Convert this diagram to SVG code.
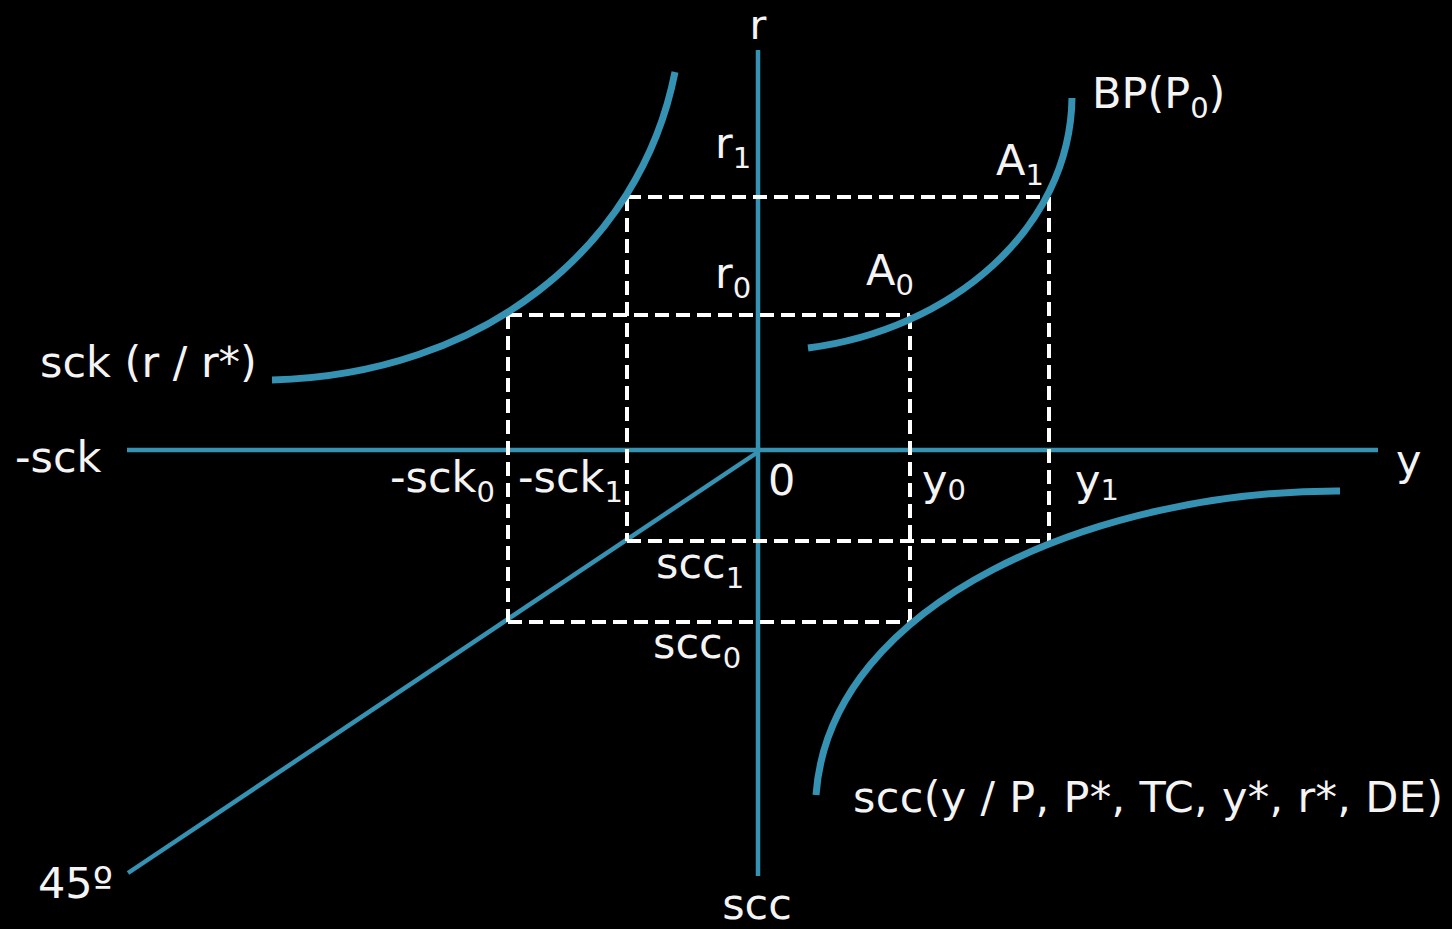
<svg xmlns="http://www.w3.org/2000/svg" width="1452" height="929" viewBox="0 0 1452 929">
<style>
.ax{stroke:#3592b2;stroke-width:4.5;fill:none}
.cv{stroke:#3592b2;stroke-width:7;fill:none;stroke-linecap:butt}
.ds{stroke:#ffffff;stroke-width:4;fill:none;stroke-dasharray:14 7}
text{font-family:"DejaVu Sans","Liberation Sans",sans-serif;fill:#f4f4f4;font-size:43px}
.sb{font-size:29px}
</style>
<rect width="1452" height="929" fill="#000"/>
<g id="connectors">
<line class="ax" x1="758" y1="50" x2="758" y2="876"/>
<line class="ax" x1="127" y1="450" x2="1378" y2="450"/>
<line class="ax" x1="758" y1="452" x2="128" y2="873"/>
<path class="ds" d="M627,197 H1049 M627,197 V541 M1049,197 V541 M627,541 H1049"/>
<path class="ds" d="M508,315 H910 M508,315 V622 M910,315 V622 M508,622 H910"/>
</g>
<g id="sck-curve"><path class="cv" d="M675,72 C640,250 480,375 272,380"/></g>
<g id="bp-curve"><path class="cv" d="M1072,98 C1070,230 950,330 808,348"/></g>
<g id="scc-curve"><path class="cv" d="M1340,491 C1100,490 830,600 816,795"/></g>
<g id="labels">
<text x="758" y="39" text-anchor="middle" style="font-size:41px">r</text>
<text x="1396" y="475">y</text>
<text x="15" y="472">-sck</text>
<text x="40" y="377">sck (r / r*)</text>
<text x="1092" y="108">BP(P<tspan class="sb" dy="10">0</tspan><tspan dy="-10">)</tspan></text>
<text x="996" y="175">A<tspan class="sb" dy="10">1</tspan></text>
<text x="715" y="158">r<tspan class="sb" dy="10">1</tspan></text>
<text x="715" y="288">r<tspan class="sb" dy="10">0</tspan></text>
<text x="866" y="285">A<tspan class="sb" dy="10">0</tspan></text>
<text x="390" y="492">-sck<tspan class="sb" dy="10">0</tspan></text>
<text x="518" y="492">-sck<tspan class="sb" dy="10">1</tspan></text>
<text x="768" y="495">0</text>
<text x="922" y="495">y<tspan class="sb" dy="5">0</tspan></text>
<text x="1075" y="495">y<tspan class="sb" dy="5">1</tspan></text>
<text x="656" y="578">scc<tspan class="sb" dy="10">1</tspan></text>
<text x="653" y="658">scc<tspan class="sb" dy="10">0</tspan></text>
<text x="853" y="812" textLength="590" lengthAdjust="spacing">scc(y / P, P*, TC, y*, r*, DE)</text>
<text x="38" y="898">45º</text>
<text x="757" y="919" text-anchor="middle">scc</text>
</g>
</svg>
